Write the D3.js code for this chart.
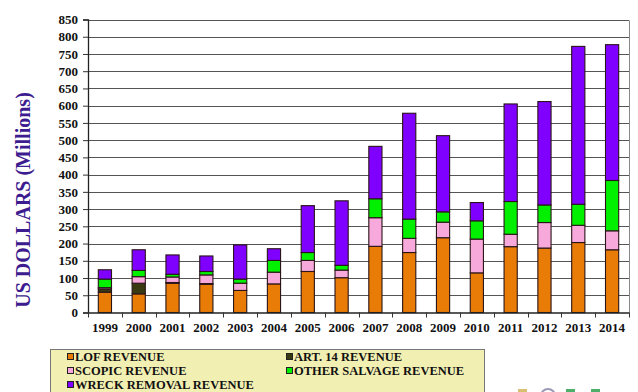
<!DOCTYPE html>
<html><head><meta charset="utf-8">
<script src="https://cdn.jsdelivr.net/npm/d3@7"></script>
<style>body{margin:0;background:#fff}svg{display:block}</style>
</head><body>
<svg id="c" width="638" height="392"></svg>
<script>
const years = ["1999","2000","2001","2002","2003","2004","2005","2006","2007","2008","2009","2010","2011","2012","2013","2014"];
const lof     = [59,54,85,82,64,83,119,101,192,174,217,115,191,187,203,182];
const art14   = [9,31,2,2,0,0,0,0,0,0,0,0,0,0,0,0];
const scopic  = [4,19,16,25,21,34,32,22,83,41,45,98,36,74,50,55];
const other   = [25,18,8,10,12,34,23,14,55,56,30,53,95,51,61,146];
const wreck   = [27,60,56,45,99,34,136,187,152,307,221,53,283,300,458,394];
const seriesNames = ["LOF REVENUE","ART. 14 REVENUE","SCOPIC REVENUE","OTHER SALVAGE REVENUE","WRECK REMOVAL REVENUE"];
const colors = ["#e97c06","#3a3a12","#f8a9dc","#00f000","#8000ff"];
const yTicks = d3.range(0, 851, 50);

const keys = ["lof","art14","scopic","other","wreck"];
const table = years.map((y,i)=>({year:y, lof:lof[i], art14:art14[i], scopic:scopic[i], other:other[i], wreck:wreck[i]}));
const stack = d3.stack().keys(keys)(table);

const svg = d3.select("#c");
const font = "'Liberation Serif','Times New Roman',serif";
const x = d3.scaleBand().domain(years).range([88, 629]).padding(0);
const y = d3.scaleLinear().domain([0, 850]).range([312.5, 19.5]);

// gridlines
svg.append("g").selectAll("line").data(yTicks.filter(d=>d>0)).join("line")
  .attr("x1", 88).attr("x2", 629)
  .attr("y1", d=>Math.round(y(d))+0.5).attr("y2", d=>Math.round(y(d))+0.5)
  .attr("stroke", "#555").attr("stroke-width", 1.2);
// right border
svg.append("line").attr("x1",629.5).attr("x2",629.5).attr("y1",Math.round(y(850))+0.5).attr("y2",y(0))
  .attr("stroke","#888").attr("stroke-width",1);

// bars
const bw = x.step()*0.39;
svg.append("g").selectAll("g").data(stack).join("g")
  .attr("fill", (d,i)=>colors[i])
  .selectAll("rect").data(d=>d).join("rect")
  .attr("x", d=>x(d.data.year) + (x.step()-bw)/2)
  .attr("width", bw)
  .attr("y", d=>y(d[1]))
  .attr("height", d=>Math.max(0, y(d[0]) - y(d[1])))
  .attr("stroke", d=> (d[1]-d[0])>0 ? "#2a1418" : "none")
  .attr("stroke-width", 1.1);

// y axis
const ya = svg.append("g").attr("transform","translate(88,0)")
  .call(d3.axisLeft(y).tickValues(yTicks).tickSize(5).tickPadding(5).tickFormat(d3.format("d")));
ya.attr("font-family",font).attr("font-size",13);
ya.select(".domain").attr("stroke","#222").attr("stroke-width",1.3);
ya.selectAll(".tick line").attr("stroke","#333");
ya.selectAll("text").attr("font-family",font).attr("font-weight","bold").attr("font-size",13).attr("fill","#111");

// x axis
const xa = svg.append("g").attr("transform",`translate(0,${y(0)})`)
  .call(d3.axisBottom(x).tickSize(0).tickPadding(10));
xa.attr("font-family",font).attr("font-size",13);
xa.select(".domain").attr("stroke","#222").attr("stroke-width",1.3);
xa.selectAll("text").attr("font-family",font).attr("font-weight","bold").attr("font-size",13).attr("fill","#111");
svg.append("g").selectAll("line").data(years.concat(["end"])).join("line")
  .attr("x1", (d,i)=>Math.round(88 + i*x.step())+0.5).attr("x2",(d,i)=>Math.round(88 + i*x.step())+0.5)
  .attr("y1", y(0)).attr("y2", y(0)+5).attr("stroke","#333");

// y title
svg.append("text").attr("transform","translate(30,200) rotate(-90)")
  .attr("text-anchor","middle").attr("font-family",font).attr("font-weight","bold")
  .attr("font-size",20).attr("fill","#3d1c8f").text("US DOLLARS (Millions)");

// legend
svg.append("rect").attr("x",50.5).attr("y",349.5).attr("width",434).attr("height",50)
  .attr("fill","#f1efb2").attr("stroke","#777");
const legPos = [[67,357],[286,357],[67,371],[286,371],[67,385]];
const order = [0,1,2,3,4];
const lg = svg.append("g").selectAll("g").data(order).join("g")
  .attr("transform", (d,i)=>`translate(${legPos[i][0]},${legPos[i][1]})`);
lg.append("rect").attr("x",0.5).attr("y",-3.5).attr("width",6).attr("height",6)
  .attr("fill",d=>colors[d]).attr("stroke","#222");
lg.append("text").attr("x",8).attr("y",4.3).attr("font-family",font).attr("font-weight","bold")
  .attr("font-size",12.5).attr("fill","#111").text(d=>seriesNames[d]);

// partial logo at bottom right
const logo = svg.append("g");
logo.append("rect").attr("x",518).attr("y",389).attr("width",9).attr("height",5).attr("fill","#d8c070");
logo.append("circle").attr("cx",548).attr("cy",396).attr("r",7).attr("fill","none").attr("stroke","#9a9ab8").attr("stroke-width",2);
logo.append("rect").attr("x",566).attr("y",389).attr("width",9).attr("height",5).attr("fill","#4caf6a");
logo.append("rect").attr("x",591).attr("y",389).attr("width",9).attr("height",5).attr("fill","#4caf6a");
</script>
</body></html>
